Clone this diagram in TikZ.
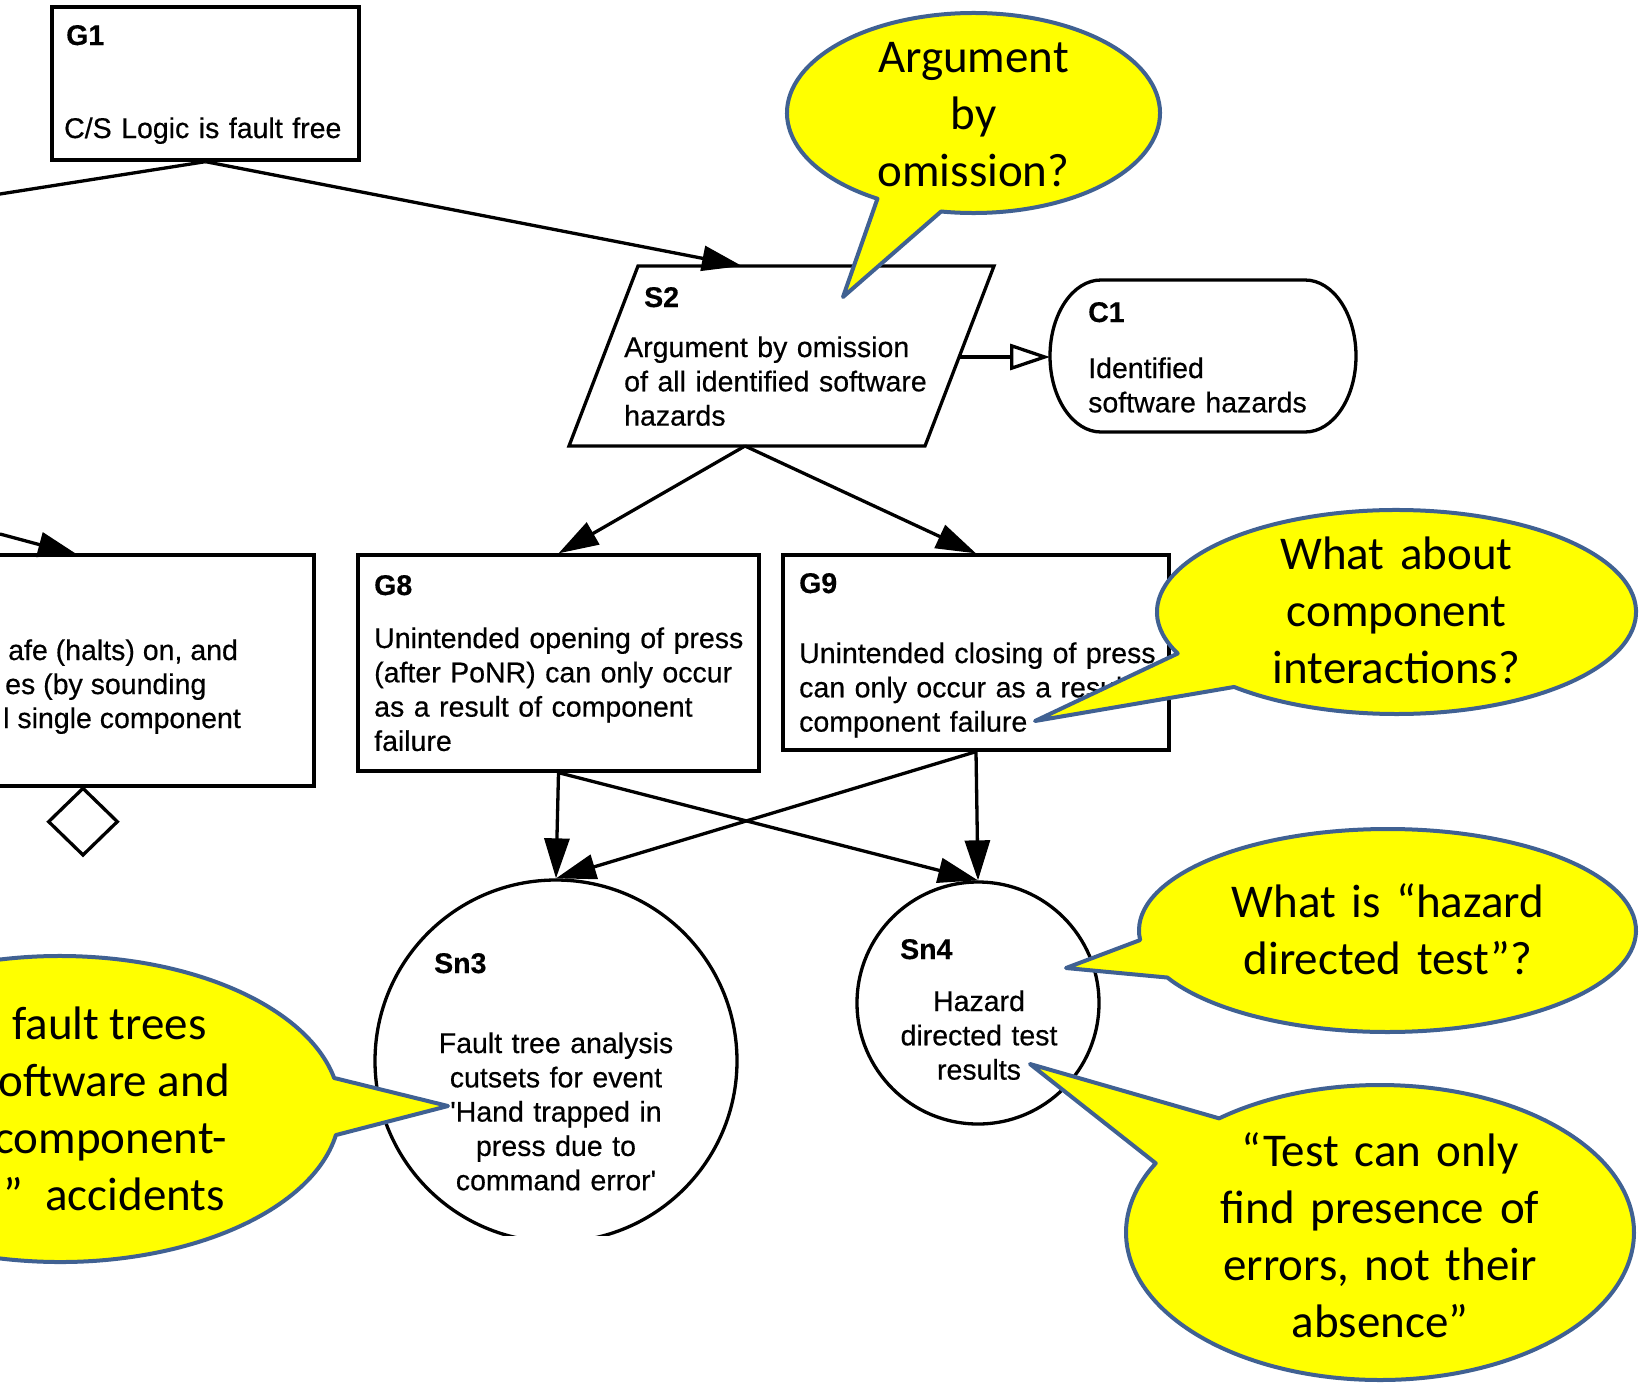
\documentclass[tikz,border=0pt]{standalone}
\usepackage{fontspec}
\setmainfont{Liberation Sans}[FakeBold=0.5]
\newfontfamily\callfont{Carlito}
\usetikzlibrary{arrows.meta,calc,shapes.geometric}
\definecolor{calloutblue}{RGB}{64,97,146}
\definecolor{calloutfill}{RGB}{255,255,0}

\begin{document}
\begin{tikzpicture}[x=1pt,y=-1pt,
  outline/.style={draw=black, line width=3.3pt},
  link/.style={draw=black, line width=3.3pt, -{Triangle[length=40pt,width=25pt]}},
  ctxlink/.style={draw=black, line width=3.3pt, -{Triangle[open,length=40pt,width=26pt,fill=white]}},
  gsntext/.style={inner sep=0pt, font=\fontsize{28.5}{34.3}\selectfont},
  idlabel/.style={inner sep=0pt, anchor=base west, font=\fontsize{28.5}{34.3}\selectfont\bfseries},
  gsnpara/.style={gsntext, anchor=base west, text width=#1, align=left},
  gsncentre/.style={gsntext, anchor=base, text width=#1, align=center},
  bubble/.style={fill=calloutfill, draw=calloutblue, line width=4pt, line join=round},
  bubbletext/.style={inner sep=0pt, anchor=base, font=\callfont\fontsize{47}{57}\selectfont, text width=#1, align=center},
  bubbleline/.style={inner sep=0pt, font=\callfont\fontsize{47}{57}\selectfont},
]
\fill[white] (0,0) rectangle (1639,1382);
\useasboundingbox (0,0) rectangle (1639,1382);
\clip (0,0) rectangle (1639,1382);

% ---------- goal G1 ----------
\node[outline, rectangle, minimum width=307pt, minimum height=153pt, inner sep=0pt] (G1) at (205.5,83.5) {};
\node[idlabel] (G1id) at (66,45) {G1};
\node[gsnpara=300pt] (G1txt) at (64,138) {C/S Logic is fault free};

% ---------- strategy S2 (parallelogram) ----------
\coordinate (S2nw) at (638,266);
\coordinate (S2ne) at (994,266);
\coordinate (S2se) at (925,446);
\coordinate (S2sw) at (569,446);
\draw[outline] (S2nw) -- (S2ne) -- (S2se) -- (S2sw) -- cycle;
\coordinate (S2in) at (742,266);
\coordinate (S2out) at (745,446);
\coordinate (S2east) at (959.1,357);
\node[idlabel] (S2id) at (644,307) {S2};
\node[gsnpara=340pt] (S2txt) at (624,357) {Argument by omission\\of all identified software\\hazards};

% ---------- context C1 ----------
\draw[outline] (1101,280) -- (1305,280)
  arc[start angle=-90, end angle=90, x radius=51, y radius=76] -- (1101,432)
  arc[start angle=90, end angle=270, x radius=51, y radius=76] -- cycle;
\coordinate (C1west) at (1050,357);
\node[idlabel] (C1id) at (1088,322) {C1};
\node[gsnpara=260pt] (C1txt) at (1088,378) {Identified\\software hazards};

% ---------- partly visible goal on the left ----------
\node[outline, rectangle, minimum width=334pt, minimum height=231pt, inner sep=0pt] (Gleft) at (147,670.5) {};
\node[gsntext, anchor=base west] (Gleft1) at (8,660) {afe (halts) on, and};
\node[gsntext, anchor=base west] (Gleft2) at (5,694) {es (by sounding};
\node[gsntext, anchor=base west] (Gleft3) at (3,728) {l single component};
\node[outline, diamond, minimum width=70pt, minimum height=68pt, inner sep=0pt, anchor=north] (Gdia) at (83,786) {};
\coordinate (Gleftin) at (78,555);
\coordinate (leftfree) at (0,534);

% ---------- goals G8 and G9 ----------
\node[outline, rectangle, minimum width=401pt, minimum height=216pt, inner sep=0pt] (G8) at (558.5,663) {};
\node[idlabel] (G8id) at (374,595) {G8};
\node[gsnpara=390pt] (G8txt) at (374,648) {Unintended opening of press\\(after PoNR) can only occur\\as a result of component\\failure};

\node[outline, rectangle, minimum width=386pt, minimum height=195pt, inner sep=0pt] (G9) at (976,652.5) {};
\node[idlabel] (G9id) at (799,593) {G9};
\node[gsnpara=380pt] (G9txt) at (799,663) {Unintended closing of press\\can only occur as a result of\\component failure};

% ---------- solutions Sn3 and Sn4 ----------
\begin{scope}
  \clip (300,820) rectangle (820,1235);
  \node[outline, circle, minimum size=362pt, inner sep=0pt] (Sn3) at (556,1061) {};
\end{scope}
\node[idlabel] (Sn3id) at (434,973) {Sn3};
\node[gsncentre=300pt] (Sn3txt) at (556,1053) {Fault tree analysis\\cutsets for event\\\textquotesingle{}Hand trapped in\\press due to\\command error\textquotesingle};

\node[outline, circle, minimum size=242pt, inner sep=0pt] (Sn4) at (978,1003) {};
\node[idlabel] (Sn4id) at (900,959) {Sn4};
\node[gsncentre=200pt] (Sn4txt) at (979,1011) {Hazard\\directed test\\results};

% ---------- connectors ----------
\coordinate (G1free) at (0,194);
\draw[outline] (G1.south) -- (G1free);
\draw[link] (G1.south) -- (S2in);
\draw[ctxlink] (S2east) -- (C1west);
\draw[link] (leftfree) -- (Gleftin);
\draw[link] (S2out) -- (G8.north);
\draw[link] (S2out) -- (G9.north);
\draw[link] (G8.south) -- (Sn3.north);
\draw[link] (G8.south) -- (Sn4.north);
\draw[link] (G9.south) -- (Sn3.north);
\draw[link] (G9.south) -- (Sn4.north);

% ---------- speech bubbles ----------
\coordinate (b1c) at (973.5,113);
\coordinate (b1tip) at (843,297);
\draw[bubble] (b1tip) -- ($(b1c)+(121:186.5 and 100)$)
  arc[start angle=121, end angle=460, x radius=186.5, y radius=100] -- cycle;
\node[bubbletext=330pt] (b1txt) at (973.5,72.5) {Argument\\by\\omission?};

\coordinate (b2c) at (1396.5,612);
\coordinate (b2tip) at (1035,721);
\draw[bubble] (b2tip) -- ($(b2c)+(156:239.5 and 102)$)
  arc[start angle=156, end angle=492.7, x radius=239.5, y radius=102] -- cycle;
\node[bubbletext=460pt] (b2txt) at (1396.5,569) {What about\\component\\interactions?};

\coordinate (b3c) at (1387.5,930.5);
\coordinate (b3tip) at (1066,968);
\draw[bubble] (b3tip) -- ($(b3c)+(174.6:248.5 and 101.5)$)
  arc[start angle=174.6, end angle=512.4, x radius=248.5, y radius=101.5] -- cycle;
\node[bubbletext=480pt] (b3txt) at (1388,917) {What is “hazard\\directed test”?};

\coordinate (b4c) at (1380,1232.5);
\coordinate (b4tip) at (1030,1064);
\draw[bubble] (b4tip) -- ($(b4c)+(230.7:254 and 147.5)$)
  arc[start angle=230.7, end angle=568, x radius=254, y radius=147.5] -- cycle;
\node[bubbletext=480pt] (b4txt) at (1380,1166) {“Test can only\\find presence of\\errors, not their\\absence”};

\coordinate (b5c) at (60,1109);
\coordinate (b5tip) at (448,1106);
\draw[bubble] (b5tip) -- ($(b5c)+(9.8:280 and 153)$)
  arc[start angle=9.8, end angle=348.3, x radius=280, y radius=153] -- cycle;
\node[bubbleline, anchor=base west] (b5l1) at (12,1039) {fault trees};
\node[bubbleline, anchor=base east] (b5l2) at (230,1096) {oftware and};
\node[bubbleline, anchor=base east] (b5l3) at (227,1153) {component-};
\node[bubbleline, anchor=base west] (b5l4a) at (3,1210) {”};
\node[bubbleline, anchor=base east] (b5l4b) at (225,1210) {accidents};
\end{tikzpicture}
\end{document}
